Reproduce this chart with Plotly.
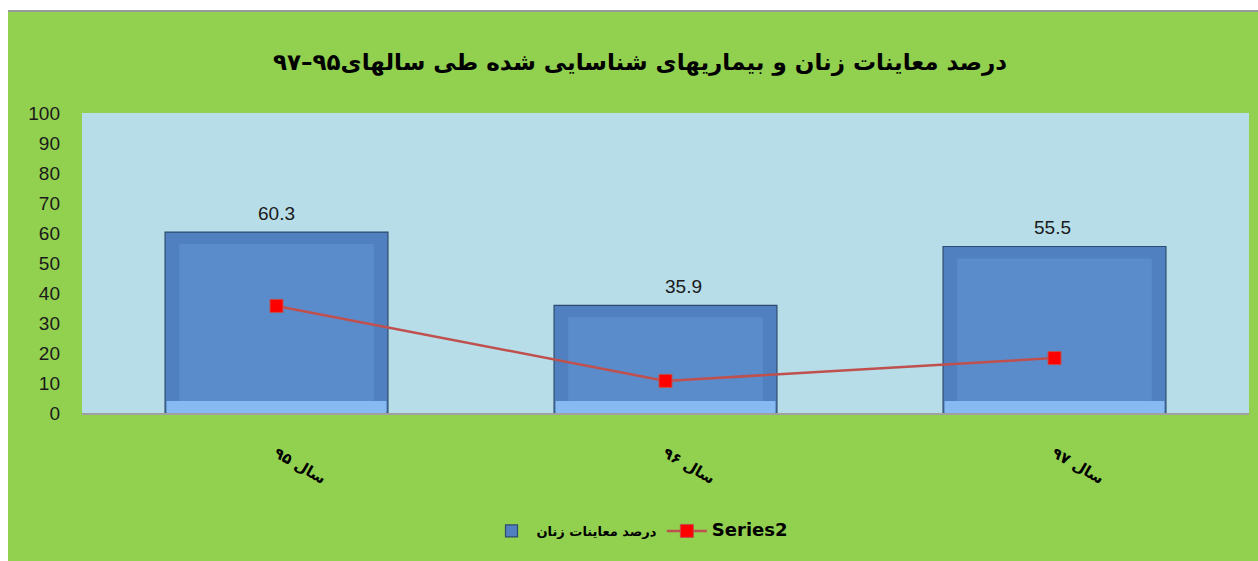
import plotly.graph_objects as go

categories = ["سال ۹۵", "سال ۹۶", "سال ۹۷"]
exam_pct = [60.3, 35.9, 55.5]
series2 = [35.7, 10.7, 18.3]
y_ticks = [0, 10, 20, 30, 40, 50, 60, 70, 80, 90, 100]

bar_name = "درصد معاینات زنان"
line_name = "Series2"
title_text = "درصد معاینات زنان و بیماریهای شناسایی شده طی سالهای۹۵–۹۷"

W, H = 1258, 561
L, R, T, B = 82, 9, 113, 148
pw, ph = W - L - R, H - T - B

def px_x(p):
    return (p - L) / pw

def px_y(p):
    return (H - B - p) / ph

bevel = 4
fig = go.Figure()
# outer frame of bar
fig.add_trace(go.Bar(
    x=categories, y=exam_pct, name=bar_name, width=0.573,
    marker=dict(color="#5080BF", line=dict(color="#2E4A6E", width=1.2)),
    showlegend=True, hoverinfo="skip"))
# bottom light bevel
fig.add_trace(go.Bar(
    x=categories, y=[bevel] * len(exam_pct), base=[0] * len(exam_pct), width=0.565,
    marker=dict(color="#88BAF2", line=dict(width=0)), showlegend=False, hoverinfo="skip"))
# inner face
fig.add_trace(go.Bar(
    x=categories, y=[v - 2 * bevel for v in exam_pct], base=[bevel] * len(exam_pct), width=0.50,
    marker=dict(color="#5A8BCB", line=dict(width=0)), showlegend=False, hoverinfo="skip"))

fig.add_trace(go.Scatter(
    x=categories, y=series2, name="<span style='font-size:18px'>" + line_name + "</span>",
    mode="lines+markers",
    line=dict(color="#C0504D", width=2.5),
    marker=dict(symbol="square", size=13, color="#FF0000", line=dict(color="#C0504D", width=1))))

label_xshift = [0, 18, -2]
for c, v, xs in zip(categories, exam_pct, label_xshift):
    fig.add_annotation(x=c, y=v, text=f"{v:.1f}", showarrow=False, yshift=19, xshift=xs,
                       font=dict(family="Liberation Sans Narrow, Liberation Sans, Arial", size=19, color="#1a1a1a"))

shapes = [
    dict(type="rect", xref="paper", yref="paper", x0=px_x(0), x1=px_x(W), y0=px_y(11), y1=px_y(0),
         fillcolor="white", line=dict(width=0), layer="above"),
    dict(type="rect", xref="paper", yref="paper", x0=px_x(0), x1=px_x(8), y0=px_y(H), y1=px_y(0),
         fillcolor="white", line=dict(width=0), layer="above"),
    dict(type="line", xref="paper", yref="paper", x0=px_x(8), x1=px_x(W), y0=px_y(11), y1=px_y(11),
         line=dict(color="#9A9A9A", width=2), layer="above"),
]

fig.update_layout(
    width=W, height=H,
    margin=dict(l=L, r=R, t=T, b=B),
    paper_bgcolor="#92D050", plot_bgcolor="#B7DDE8",
    barmode="overlay", bargap=0.4,
    title=dict(text=title_text, x=640 / W, xanchor="center", y=1 - 62 / H, yanchor="middle",
               font=dict(family="DejaVu Sans", size=23, color="black", weight="bold")),
    xaxis=dict(range=[-0.5, 2.5], showgrid=False, showline=True, linecolor="#A0A0A0", linewidth=2,
               tickangle=30, ticks="", ticklabelstandoff=24,
               tickfont=dict(family="DejaVu Sans", size=15, color="black", weight="bold")),
    yaxis=dict(range=[0, 100], tickvals=y_ticks, showgrid=False, zeroline=False, showline=False,
               ticks="", ticklabelstandoff=21,
               tickfont=dict(family="Liberation Sans Narrow, Liberation Sans, Arial", size=19, color="#1a1a1a")),
    legend=dict(orientation="h", x=px_x(640), xanchor="center", y=px_y(531), yanchor="middle",
                bgcolor="rgba(0,0,0,0)",
                font=dict(family="DejaVu Sans", size=13, color="black", weight="bold"),
                itemwidth=40),
    shapes=shapes,
    showlegend=True,
)

fig.write_html("out.html")
